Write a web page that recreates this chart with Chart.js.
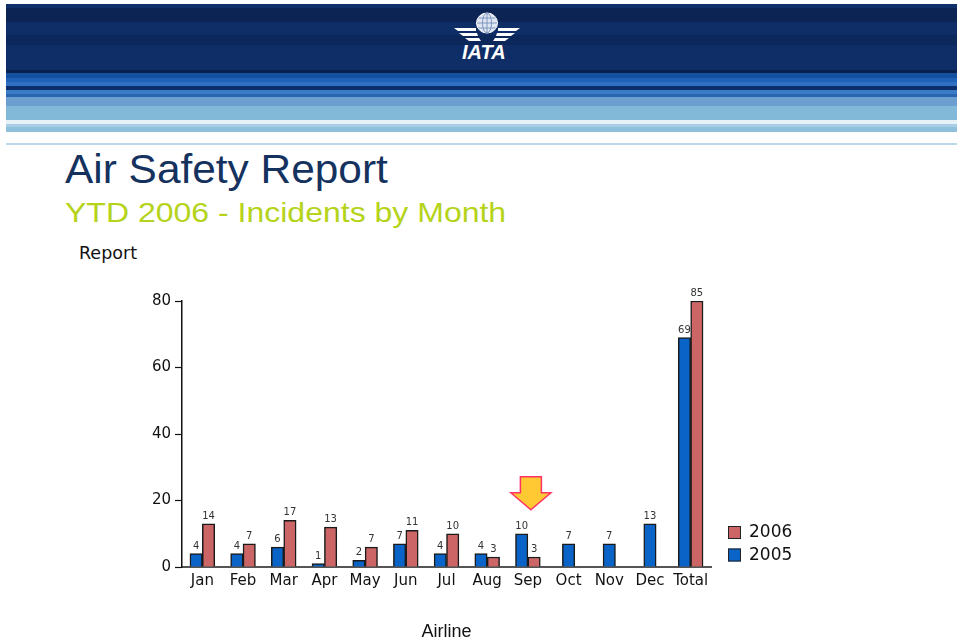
<!DOCTYPE html>
<html>
<head>
<meta charset="utf-8">
<script src="https://cdn.jsdelivr.net/npm/chart.js@4.4.0/dist/chart.umd.min.js"></script>
<style>
  html, body { margin: 0; padding: 0; background: #fff; width: 957px; height: 641px; overflow: hidden; position: relative; }
  #banner {
    position: absolute; left: 6px; top: 4px; width: 951px; height: 137px;
    background: linear-gradient(to bottom,
      #10306a 0px, #10306a 4px,
      #0b2454 4px, #0b2454 18px,
      #0f2d66 18px, #0f2d66 31px,
      #0c2759 31px, #0c2759 41px,
      #0f2e68 41px, #0f2e68 66px,
      #08204c 66px, #08204c 69px,
      #1450a0 69px, #1450a0 74px,
      #1d62b8 74px, #1d62b8 78px,
      #2f70c0 78px, #2f70c0 82px,
      #0c2e6c 82px, #0c2e6c 86px,
      #3a7cc4 86px, #3a7cc4 90px,
      #2a66b0 90px, #2a66b0 93px,
      #6c9ecf 93px, #6c9ecf 102px,
      #82b9d9 102px, #82b9d9 116px,
      #e6f1f8 116px, #e6f1f8 120px,
      #a8cde4 120px, #a8cde4 123px,
      #8ec0dc 123px, #8ec0dc 128px,
      #ffffff 128px, #ffffff 137px);
  }
  #rule { position: absolute; left: 6px; top: 143px; width: 951px; height: 2px; background: #bcd9ec; }
  #logo { position: absolute; left: 440px; top: 8px; }
  #iata { position: absolute; left: 462px; top: 42px; font: italic bold 20px "Liberation Sans", Arial, sans-serif; color: #fff; line-height: 20px; }
  .txt { position: absolute; white-space: nowrap; transform-origin: left top; }
  #title { left: 65px; top: 149px; font: 40px "Liberation Sans", Arial, sans-serif; line-height: 40px; color: #15325f; transform: scaleX(1.06); }
  #subtitle { left: 65px; top: 199px; font: 28px "Liberation Sans", Arial, sans-serif; line-height: 28px; color: #b5d31a; transform: scaleX(1.143); }
  #ylabel { left: 79px; top: 245px; font: 17.5px "DejaVu Sans", sans-serif; line-height: 17px; color: #111; }
  #wrap { position: absolute; left: 0; top: 240px; width: 957px; height: 401px; }
</style>
</head>
<body>
<div id="banner"></div>
<div id="rule"></div>
<svg id="logo" width="100" height="36" viewBox="0 0 100 36">
  <ellipse cx="47" cy="15" rx="10.5" ry="10" fill="#dfe6f2" stroke="#fff" stroke-width="1"/>
  <path d="M47 5 V25 M37 15 H57 M38.5 10 H55.5 M38.5 20 H55.5" stroke="#6a85b5" stroke-width="0.8" fill="none"/>
  <ellipse cx="47" cy="15" rx="4.5" ry="10" fill="none" stroke="#6a85b5" stroke-width="0.8"/>
  <polygon points="14,20 36,20 36,23 18,23" fill="#fff"/>
  <polygon points="19,25 37,25 38,28 23,28" fill="#fff"/>
  <polygon points="25,30 39,30 41,33 29,33" fill="#fff"/>
  <polygon points="80,20 58,20 58,23 76,23" fill="#fff"/>
  <polygon points="75,25 57,25 56,28 71,28" fill="#fff"/>
  <polygon points="69,30 55,30 53,33 65,33" fill="#fff"/>
</svg>
<div id="iata">IATA</div>
<div class="txt" id="title">Air Safety Report</div>
<div class="txt" id="subtitle">YTD 2006 - Incidents by Month</div>
<div class="txt" id="ylabel">Report</div>
<div id="wrap"><canvas id="chart" width="957" height="401"></canvas></div>

<script>
// categories and values
const months = ['Jan', 'Feb', 'Mar', 'Apr', 'May', 'Jun', 'Jul', 'Aug', 'Sep', 'Oct', 'Nov', 'Dec', 'Total'];
// bar heights as drawn
const bars2005 = [4, 4, 6, 1, 2, 7, 4, 4, 10, 7, 7, 13, 69];
const bars2006 = [13, 7, 14, 12, 6, 11, 10, 3, 3, null, null, null, 80];
// numbers printed above the bars
const labels2005 = [4, 4, 6, 1, 2, 7, 4, 4, 10, 7, 7, 13, 69];
const labels2006 = [14, 7, 17, 13, 7, 11, 10, 3, 3, null, null, null, 85];
const yTicks = [0, 20, 40, 60, 80];
const markedMonth = 'Sep';

const BLUE = '#0a64c8';
const RED = '#cc6666';

const valueLabels = {
  id: 'valueLabels',
  afterDatasetsDraw(chart) {
    const ctx = chart.ctx;
    const texts = [labels2005, labels2006];
    ctx.save();
    ctx.font = '10px "DejaVu Sans", sans-serif';
    ctx.fillStyle = '#333';
    ctx.textAlign = 'center';
    ctx.textBaseline = 'alphabetic';
    chart.data.datasets.forEach((ds, i) => {
      chart.getDatasetMeta(i).data.forEach((bar, j) => {
        const t = texts[i][j];
        if (t === null || ds.data[j] === null) return;
        ctx.fillText(String(t), bar.x, bar.y - 5);
      });
    });
    ctx.restore();
  }
};

const arrowMark = {
  id: 'arrowMark',
  afterDatasetsDraw(chart) {
    const ctx = chart.ctx;
    const idx = months.indexOf(markedMonth);
    const cx = chart.scales.x.getPixelForValue(idx) + 3;
    const tip = chart.scales.y.getPixelForValue(bars2005[idx]) - 24;
    ctx.save();
    ctx.beginPath();
    ctx.moveTo(cx - 10.5, tip - 33);
    ctx.lineTo(cx + 10.5, tip - 33);
    ctx.lineTo(cx + 10.5, tip - 17);
    ctx.lineTo(cx + 20, tip - 17);
    ctx.lineTo(cx, tip);
    ctx.lineTo(cx - 20, tip - 17);
    ctx.lineTo(cx - 10.5, tip - 17);
    ctx.closePath();
    ctx.fillStyle = '#ffc933';
    ctx.fill();
    ctx.lineWidth = 1.5;
    ctx.strokeStyle = '#ff3366';
    ctx.stroke();
    ctx.restore();
  }
};

const sideLegend = {
  id: 'sideLegend',
  afterDraw(chart) {
    const ctx = chart.ctx;
    const area = chart.chartArea;
    const items = chart.data.datasets.slice().reverse();
    ctx.save();
    ctx.font = '17px "DejaVu Sans", sans-serif';
    ctx.textBaseline = 'middle';
    ctx.textAlign = 'left';
    items.forEach((ds, i) => {
      const top = area.bottom - 41 + i * 22.5;
      ctx.fillStyle = ds.backgroundColor;
      ctx.fillRect(area.right + 17, top, 13, 13);
      ctx.lineWidth = 1;
      ctx.strokeStyle = '#222';
      ctx.strokeRect(area.right + 17.5, top + 0.5, 12, 12);
      ctx.fillStyle = '#111';
      ctx.fillText(ds.label, area.right + 38, top + 7);
    });
    ctx.restore();
  }
};

new Chart(document.getElementById('chart').getContext('2d'), {
  type: 'bar',
  data: {
    labels: months,
    datasets: [
      { label: '2005', data: bars2005, backgroundColor: BLUE, borderColor: '#1a1a1a', borderWidth: 1.5, skipNull: true },
      { label: '2006', data: bars2006, backgroundColor: RED, borderColor: '#1a1a1a', borderWidth: 1.5, skipNull: true }
    ]
  },
  options: {
    responsive: false,
    animation: false,
    devicePixelRatio: 1,
    layout: { padding: { left: 0, right: 246, top: 61, bottom: 0 } },
    datasets: { bar: { barThickness: 12.4 } },
    plugins: { legend: { display: false }, tooltip: { enabled: false } },
    scales: {
      x: {
        grid: { display: false, drawTicks: false },
        border: { color: '#555', width: 2 },
        ticks: { color: '#111', padding: 5, autoSkip: false, maxRotation: 0, minRotation: 0, font: { family: 'DejaVu Sans', size: 15 } },
        title: { display: true, text: 'Airline', color: '#111', padding: 0, font: { family: 'Liberation Sans', size: 18, lineHeight: 1.05 } },
        afterFit(scale) { scale.height = 74; }
      },
      y: {
        min: 0,
        max: 80,
        afterBuildTicks(scale) { scale.ticks = yTicks.map(v => ({ value: v })); },
        grid: { drawOnChartArea: false, color: '#111', tickLength: 7, tickWidth: 1.2 },
        border: { color: '#111', width: 1.5 },
        ticks: { color: '#111', padding: 4, font: { family: 'DejaVu Sans', size: 15 } },
        afterFit(scale) { scale.width = 182; }
      }
    }
  },
  plugins: [valueLabels, arrowMark, sideLegend]
});
</script>
</body>
</html>
